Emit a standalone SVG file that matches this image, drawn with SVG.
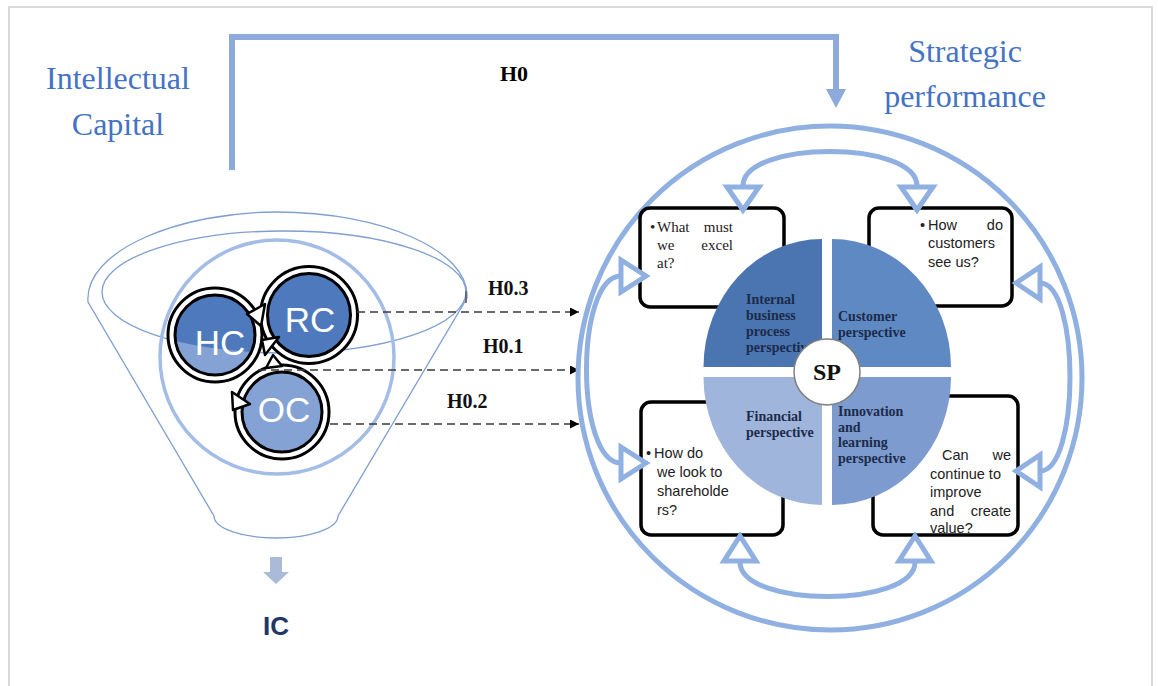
<svg xmlns="http://www.w3.org/2000/svg" width="1158" height="686" viewBox="0 0 1158 686">
  <defs>
    <style>
      .serif{font-family:"Liberation Serif","Times New Roman",serif}
      .sans{font-family:"Liberation Sans",Arial,sans-serif}
      .title{font-size:32px;fill:#4472c4}
      .hyp{font-size:20px;font-weight:bold;fill:#111}
      .band{fill:none;stroke:#8fb0e0;stroke-width:5}
      .tri{fill:#fff;stroke:#8fb0e0;stroke-width:5;stroke-linejoin:miter}
      .box{fill:#fff;stroke:#000;stroke-width:3.5}
      .q{font-size:14px;font-weight:bold;fill:#1c2b4a}
      .bt{font-size:14.5px;fill:#222}
      .st{font-size:15px;fill:#222}
      .dash{fill:none;stroke:#3a3a3a;stroke-width:1.6;stroke-dasharray:8 5}
      .ring{fill:none;stroke:#000;stroke-width:10}
      .ringw{fill:none;stroke:#fff;stroke-width:4}
      .ct{font-size:35px;fill:#fff;text-anchor:middle}
      .ah{fill:#fff;stroke:#000;stroke-width:2.5;stroke-linejoin:round}
      .funnel{fill:none;stroke:#7f9fd0;stroke-width:1.3}
    </style>
    <marker id="dh" viewBox="0 0 10 10" refX="10" refY="5" markerWidth="9" markerHeight="9" markerUnits="userSpaceOnUse" orient="auto">
      <path d="M0,0 L10,5 L0,10 Z" fill="#000"/>
    </marker>
    <clipPath id="upper"><ellipse cx="284" cy="292" rx="182" ry="61"/></clipPath>
  </defs>

  <rect width="1158" height="686" fill="#fff"/>
  <!-- outer frame -->
  <rect x="9" y="7" width="1143" height="690" fill="none" stroke="#d9d9d9" stroke-width="2"/>

  <!-- headings -->
  <g id="ic-title" class="serif title" text-anchor="middle">
    <text x="118" y="89">Intellectual</text>
    <text x="118" y="135">Capital</text>
  </g>
  <g id="sp-title" class="serif title" text-anchor="middle">
    <text x="965" y="62">Strategic</text>
    <text x="965" y="107">performance</text>
  </g>

  <!-- funnel (IC) -->
  <g id="funnel">
    <path class="funnel" d="M88,302 C84,250 180,212 277,212 C380,212 470,250 467,298 L338,516 A62 22 0 0 1 214,516 Z"/>
    <ellipse class="funnel" cx="284" cy="292" rx="182" ry="61"/>
    <line x1="466" y1="291" x2="466" y2="303" stroke="#555" stroke-width="1.5"/>
    <circle cx="277" cy="357" r="117" fill="none" stroke="#a4bde6" stroke-width="3.5"/>
    <polygon points="270,557 282,557 282,572 289,572 276,584 263,572 270,572" fill="#a9bbd8"/>
    <text class="sans" x="276" y="635" text-anchor="middle" font-size="26" font-weight="bold" fill="#1f3864">IC</text>
  </g>

  <g id="oc">
    <circle cx="282" cy="412" r="43" fill="#85a2d4"/>
    <circle class="ring" cx="282" cy="412" r="43.5"/>
    <circle class="ringw" cx="282" cy="412" r="43.5"/>
    <text class="sans ct" x="284" y="422">OC</text>
  </g>
  <g id="hc">
    <circle cx="215" cy="335" r="43" fill="#85a2d4"/>
    <circle cx="215" cy="335" r="43" fill="#4e7abd" clip-path="url(#upper)"/>
    <circle class="ring" cx="215" cy="335" r="43.5"/>
    <circle class="ringw" cx="215" cy="335" r="43.5"/>
    <text class="sans ct" x="220" y="355">HC</text>
  </g>
  <g id="rc">
    <circle cx="309" cy="315" r="44" fill="#4e7abd"/>
    <circle class="ring" cx="309" cy="315" r="45"/>
    <circle class="ringw" cx="309" cy="315" r="45"/>
    <text class="sans ct" x="310" y="332">RC</text>
  </g>
  <g id="cycle-heads">
    <polygon class="ah" points="247,314 265,304 261,326"/>
    <polygon class="ah" points="262,340 279,337 265,355"/>
    <polygon class="ah" points="232,392 250,404 233,410"/>
    <polygon class="ah" points="266,368 282,366 273,355"/>
  </g>

  <!-- hypothesis connectors -->
  <g id="connectors">
    <path d="M232,170 V37 H836 V92" fill="none" stroke="#8eaadb" stroke-width="6"/>
    <polygon points="826,89 846,89 836,108" fill="#8eaadb"/>
    <text class="serif" x="514" y="81" text-anchor="middle" font-size="22" font-weight="bold">H0</text>
    <path class="dash" d="M357,312 H579" marker-end="url(#dh)"/>
    <path class="dash" d="M258,370 H579" marker-end="url(#dh)"/>
    <path class="dash" d="M330,424 H579" marker-end="url(#dh)"/>
    <text class="serif hyp" x="488" y="295">H0.3</text>
    <text class="serif hyp" x="483" y="353">H0.1</text>
    <text class="serif hyp" x="447" y="408">H0.2</text>
  </g>

  <!-- strategic performance scorecard -->
  <g id="sp">
    <circle cx="830" cy="378" r="252" fill="none" stroke="#8fb0e0" stroke-width="5"/>

    <g id="box-internal">
      <rect class="box" x="640" y="208" width="144" height="99" rx="10"/>
      <g class="serif st">
        <text x="650" y="232">•</text>
        <text x="657" y="232">What</text>
        <text x="733" y="232" text-anchor="end">must</text>
        <text x="657" y="250">we</text>
        <text x="733" y="250" text-anchor="end">excel</text>
        <text x="657" y="268">at?</text>
      </g>
    </g>
    <g id="box-customer">
      <rect class="box" x="869" y="208" width="143" height="98" rx="10"/>
      <g class="sans bt">
        <text x="920" y="230">•</text>
        <text x="928" y="230">How</text>
        <text x="1003" y="230" text-anchor="end">do</text>
        <text x="928" y="248">customers</text>
        <text x="928" y="267">see us?</text>
      </g>
    </g>
    <g id="box-financial">
      <rect class="box" x="641" y="402" width="142" height="133" rx="10"/>
      <g class="sans bt">
        <text x="646" y="458">•</text>
        <text x="654" y="458">How do</text>
        <text x="657" y="477">we look to</text>
        <text x="657" y="496">shareholde</text>
        <text x="657" y="515">rs?</text>
      </g>
    </g>
    <g id="box-learning">
      <rect class="box" x="873" y="396" width="145" height="139" rx="10"/>
      <g class="sans bt">
        <text x="942" y="460">Can</text>
        <text x="1011" y="460" text-anchor="end">we</text>
        <text x="930" y="479">continue to</text>
        <text x="930" y="497">improve</text>
        <text x="930" y="516">and</text>
        <text x="1011" y="516" text-anchor="end">create</text>
        <text x="930" y="533">value?</text>
      </g>
    </g>

    <g id="pie">
      <path d="M822,367 H703.5 A118.5 128 0 0 1 822,239 Z" fill="#4a75b1"/>
      <path d="M832,367 V239 A119 128 0 0 1 951,367 Z" fill="#5f89c3"/>
      <path d="M822,377 V505 A118.5 128 0 0 1 703.5,377 Z" fill="#a0b5db"/>
      <path d="M832,377 H951 A119 128 0 0 1 832,505 Z" fill="#7d9bcf"/>
      <g class="serif q">
        <text x="746" y="304">Internal</text>
        <text x="746" y="320">business</text>
        <text x="746" y="336">process</text>
        <text x="746" y="352">perspective</text>
        <text x="838" y="321">Customer</text>
        <text x="838" y="337">perspective</text>
        <text x="746" y="421">Financial</text>
        <text x="746" y="437">perspective</text>
        <text x="838" y="416">Innovation</text>
        <text x="838" y="431.5">and</text>
        <text x="838" y="447">learning</text>
        <text x="838" y="462.5">perspective</text>
      </g>
      <circle cx="827" cy="372" r="33" fill="#fff" stroke="#7f7f7f" stroke-width="1.5"/>
      <text class="serif" x="827" y="380" text-anchor="middle" font-size="24" font-weight="bold" fill="#111">SP</text>
    </g>

    <g id="feedback">
      <path class="band" d="M743,186 C743,140 917,140 917,186"/>
      <path class="band" d="M740,562 C740,608 915,608 915,562"/>
      <path class="band" d="M621,276 C575,276 575,463 621,463"/>
      <path class="band" d="M1040,283 C1080,283 1080,471 1040,471"/>
      <polygon class="tri" points="727,187 759,187 743,210"/>
      <polygon class="tri" points="901,187 933,187 917,210"/>
      <polygon class="tri" points="724,561 756,561 740,536"/>
      <polygon class="tri" points="899,561 931,561 915,536"/>
      <polygon class="tri" points="621,260 621,292 646,276"/>
      <polygon class="tri" points="621,447 621,479 646,463"/>
      <polygon class="tri" points="1040,267 1040,299 1016,283"/>
      <polygon class="tri" points="1040,455 1040,487 1016,471"/>
    </g>
  </g>
</svg>
